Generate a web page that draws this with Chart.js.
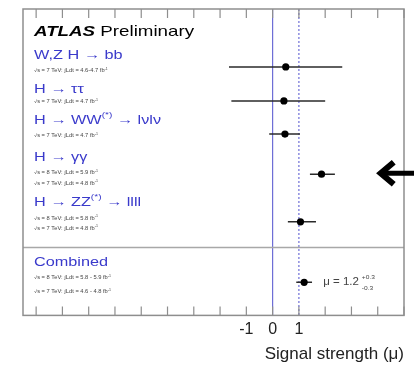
<!DOCTYPE html>
<html>
<head>
<meta charset="utf-8">
<script src="https://cdn.jsdelivr.net/npm/chart.js"></script>
<style>
  body { margin: 0; background: #fff; }
  #wrap { width: 414px; height: 365px; position: relative; }
</style>
</head>
<body>
<div id="wrap"><canvas id="chart"></canvas></div>
<script>
// Signal strength per Higgs decay channel
const channels = ['W,Z H → bb', 'H → ττ', 'H → WW^{(*)} → lνlν', 'H → γγ', 'H → ZZ^{(*)} → llll', 'Combined'];
const muValues = [0.5, 0.43, 0.47, 1.86, 1.06, 1.2];
const muErrLow = [2.16, 2.0, 0.6, 0.44, 0.48, 0.3];
const muErrHigh = [2.15, 1.57, 0.57, 0.51, 0.59, 0.3];
const channelRows = [7.0, 11.1, 15.1, 19.95, 25.7, 33.0];
const lumiLines = [
  ['√s = 7 TeV: ∫Ldt = 4.6-4.7 fb^{-1}'],
  ['√s = 7 TeV: ∫Ldt = 4.7 fb^{-1}'],
  ['√s = 7 TeV: ∫Ldt = 4.7 fb^{-1}'],
  ['√s = 8 TeV: ∫Ldt = 5.9 fb^{-1}', '√s = 7 TeV: ∫Ldt = 4.8 fb^{-1}'],
  ['√s = 8 TeV: ∫Ldt = 5.8 fb^{-1}', '√s = 7 TeV: ∫Ldt = 4.8 fb^{-1}'],
  ['√s = 8 TeV: ∫Ldt = 5.8 - 5.9 fb^{-1}', '√s = 7 TeV: ∫Ldt = 4.6 - 4.8 fb^{-1}']
];
const xTickLabels = ['-1', '0', '1'];
const refLines = [0, 1];

const FONT = '"Liberation Sans", Arial, Helvetica, sans-serif';
const BLUE_TEXT = '#3a3acb';
const BLUE_LINE = '#6e6ed6';
const FRAME = '#8e8e8e';
const Y_MAX = 37;

// layout of the label column, in row units of the y scale
const headerRows = [5.55, 9.7, 13.4, 17.9, 23.35, 30.6];
const lumiRows = [[7.5], [11.25], [15.35], [19.8, 21.05], [25.3, 26.5], [32.5, 34.2]];
const titleRow = 2.8;
const separatorRow = 28.8;
const STRETCH = 1.25;

// draw text with ^{..} superscripts and _{..} subscripts, stretched horizontally
function richText(ctx, str, x, y, size, opts = {}) {
  const parts = [];
  const re = /([\^_])\{([^}]*)\}/g;
  let last = 0, m;
  while ((m = re.exec(str))) {
    if (m.index > last) parts.push({ t: str.slice(last, m.index), k: '' });
    parts.push({ t: m[2], k: m[1] });
    last = re.lastIndex;
  }
  if (last < str.length) parts.push({ t: str.slice(last), k: '' });
  const weight = opts.weight || 'normal';
  const style = opts.style || 'normal';
  ctx.save();
  ctx.translate(x, y);
  ctx.scale(opts.stretch || STRETCH, 1);
  ctx.fillStyle = opts.color || '#000';
  ctx.textBaseline = 'middle';
  ctx.textAlign = 'left';
  let cx = 0;
  for (const p of parts) {
    const s = p.k ? size * 0.62 : size;
    const dy = p.k === '^' ? -size * 0.42 : p.k === '_' ? size * 0.42 : 0;
    ctx.font = `${style} ${weight} ${s}px ${FONT}`;
    ctx.fillText(p.t, cx, dy);
    cx += ctx.measureText(p.t).width;
  }
  ctx.restore();
  return cx * (opts.stretch || STRETCH);
}

const decorPlugin = {
  id: 'decor',
  afterDatasetsDraw(chart) {
    const { ctx, chartArea: a, scales: { x, y } } = chart;
    ctx.save();

    // separator above the combined result
    const sy = y.getPixelForValue(separatorRow);
    ctx.strokeStyle = '#a8a8a8';
    ctx.lineWidth = 1.5;
    ctx.beginPath();
    ctx.moveTo(a.left, sy);
    ctx.lineTo(a.right, sy);
    ctx.stroke();

    // frame
    ctx.strokeStyle = FRAME;
    ctx.lineWidth = 1.5;
    ctx.strokeRect(a.left, a.top, a.right - a.left, a.bottom - a.top);

    // inward tick marks, top and bottom
    ctx.lineWidth = 1.2;
    ctx.beginPath();
    for (const t of x.ticks) {
      const px = x.getPixelForValue(t.value);
      ctx.moveTo(px, a.bottom);
      ctx.lineTo(px, a.bottom - 9);
      ctx.moveTo(px, a.top);
      ctx.lineTo(px, a.top + 9);
    }
    ctx.stroke();

    // labels
    const lx = a.left + 11;
    let w = richText(ctx, 'ATLAS', lx, y.getPixelForValue(titleRow), 15, { weight: 'bold', style: 'italic' });
    richText(ctx, ' Preliminary', lx + w, y.getPixelForValue(titleRow), 15);

    channels.forEach((name, i) => {
      richText(ctx, name, lx, y.getPixelForValue(headerRows[i]), 13, { color: BLUE_TEXT });
      lumiLines[i].forEach((line, j) => {
        richText(ctx, line, lx, y.getPixelForValue(lumiRows[i][j]), 4.6, { color: '#444' });
      });
    });

    // combined value
    const last = muValues.length - 1;
    const cx = x.getPixelForValue(muValues[last]) + 19;
    const cy = y.getPixelForValue(channelRows[last]);
    w = richText(ctx, 'μ = ' + muValues[last].toFixed(1), cx, cy, 10, { color: '#444', stretch: 1.15 });
    richText(ctx, '+' + muErrHigh[last].toFixed(1), cx + w + 3, cy - 4.5, 6, { color: '#444', stretch: 1.1 });
    richText(ctx, '-' + muErrLow[last].toFixed(1), cx + w + 3, cy + 6.5, 6, { color: '#444', stretch: 1.1 });

    // arrow pointing at the diphoton result
    const ay = y.getPixelForValue(channelRows[3]) - 1;
    const tip = x.getPixelForValue(4.0) + 1;
    ctx.strokeStyle = '#000';
    ctx.lineWidth = 6;
    ctx.lineJoin = 'miter';
    ctx.beginPath();
    ctx.moveTo(tip + 15, ay - 11);
    ctx.lineTo(tip + 2, ay);
    ctx.lineTo(tip + 15, ay + 11);
    ctx.stroke();
    ctx.lineWidth = 5;
    ctx.beginPath();
    ctx.moveTo(tip + 3, ay);
    ctx.lineTo(chart.width, ay);
    ctx.stroke();

    ctx.restore();
  }
};

const datasets = [];
datasets.push({
  type: 'scatter',
  data: muValues.map((v, i) => ({ x: v, y: channelRows[i] })),
  pointRadius: 3.6,
  pointBackgroundColor: '#000',
  pointBorderColor: '#000',
  pointBorderWidth: 0
});
muValues.forEach((v, i) => {
  datasets.push({
    type: 'line',
    data: [{ x: v - muErrLow[i], y: channelRows[i] }, { x: v + muErrHigh[i], y: channelRows[i] }],
    borderColor: '#2a2a2a',
    borderWidth: 1.5,
    pointRadius: 0
  });
});
refLines.forEach((v, i) => {
  datasets.push({
    type: 'line',
    data: [{ x: v, y: 0 }, { x: v, y: Y_MAX }],
    borderColor: BLUE_LINE,
    borderWidth: 1.2,
    borderDash: i === 0 ? [] : [2, 2],
    pointRadius: 0
  });
});

new Chart(document.getElementById('chart'), {
  data: { datasets },
  options: {
    responsive: true,
    maintainAspectRatio: false,
    animation: false,
    layout: { padding: { left: 23, top: 9, right: 10, bottom: 0 } },
    plugins: { legend: { display: false }, tooltip: { enabled: false } },
    scales: {
      x: {
        type: 'linear',
        min: -9.5,
        max: 5,
        position: 'bottom',
        grid: { display: false, drawTicks: false },
        border: { display: false },
        ticks: {
          stepSize: 1,
          includeBounds: false,
          autoSkip: false,
          maxRotation: 0,
          padding: 5,
          color: '#222',
          font: { family: FONT, size: 16 },
          callback: v => xTickLabels.includes(String(v)) ? String(v) : ''
        },
        title: {
          display: true,
          text: 'Signal strength (μ)',
          align: 'end',
          color: '#222',
          font: { family: FONT, size: 17 },
          padding: { top: 0, bottom: 0 }
        }
      },
      y: {
        type: 'linear',
        reverse: true,
        min: 0,
        max: Y_MAX,
        display: false
      }
    }
  },
  plugins: [decorPlugin]
});
</script>
</body>
</html>
